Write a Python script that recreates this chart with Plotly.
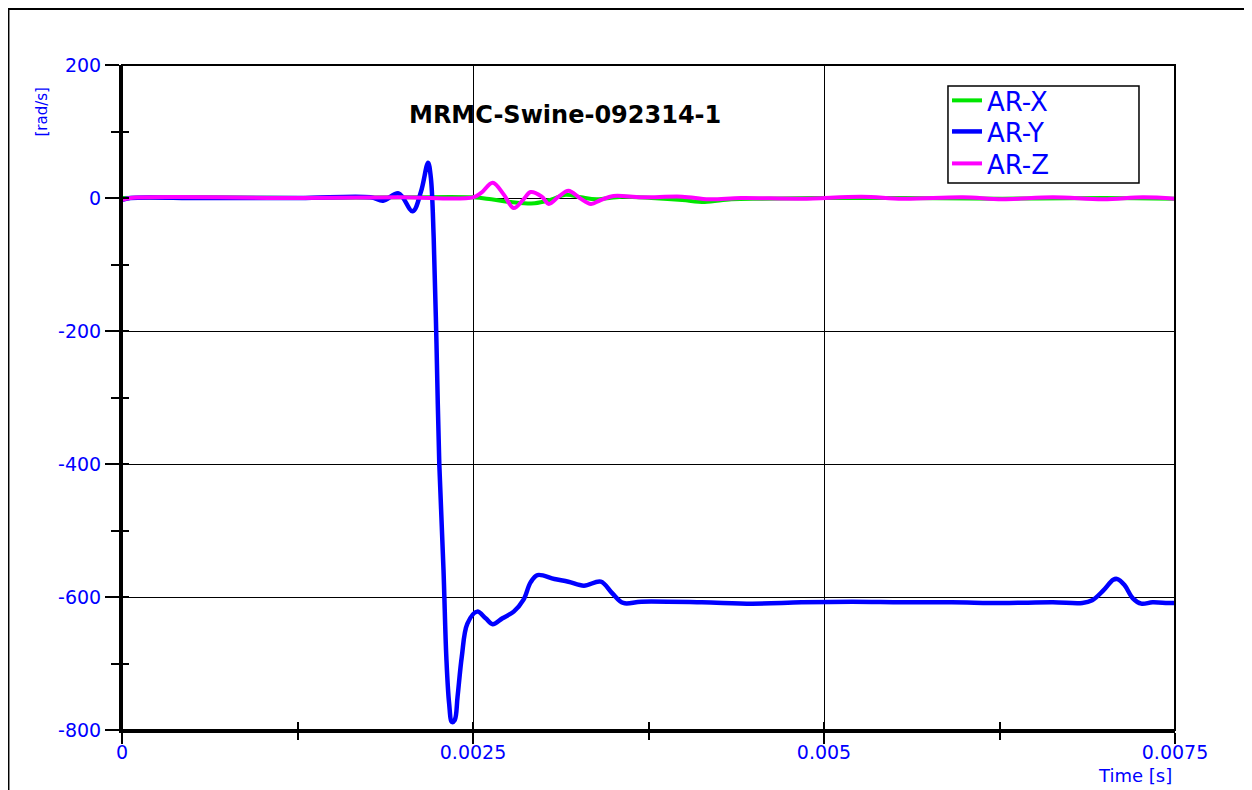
import plotly.graph_objects as go

# AR-Y (blue) - time [s], angular rate [rad/s]
t_y = [0, 0.00006, 0.00056, 0.00127, 0.00177, 0.00186, 0.00197, 0.00207, 0.00213,
       0.00218, 0.00220, 0.00222, 0.00224, 0.00226, 0.00229, 0.00231, 0.00233,
       0.00235, 0.00237, 0.00239, 0.00242, 0.00246, 0.00253, 0.00259, 0.00264,
       0.00271, 0.00279, 0.00286, 0.00291, 0.00296, 0.00308, 0.00318, 0.00329,
       0.00341, 0.00349, 0.00357, 0.00370, 0.00413, 0.00449, 0.00484, 0.00520,
       0.00556, 0.00591, 0.00627, 0.00663, 0.00684, 0.00691, 0.00699, 0.00706,
       0.00709, 0.00714, 0.00720, 0.00726, 0.00734, 0.00745, 0.0075]
ar_y = [-3, 0, 0, 0, 1, -4, 7, -20, 10,
        53, 30, -60, -220, -400, -560, -690, -760,
        -788, -785, -750, -690, -640, -622, -632, -641,
        -632, -622, -604, -578, -567, -573, -577, -583,
        -577, -594, -609, -607, -608, -610, -608, -607,
        -608, -608, -609, -608, -609, -605, -590, -574,
        -573, -582, -602, -610, -608, -609, -609]

# AR-X (green)
t_x = [0, 0.00056, 0.00127, 0.00199, 0.0025, 0.00263, 0.00277, 0.00294, 0.00306,
       0.00316, 0.00327, 0.00338, 0.00356, 0.00377, 0.00399, 0.00415, 0.00434,
       0.00456, 0.005, 0.00556, 0.00627, 0.00699, 0.0075]
ar_x = [0, 1, 0, 1, 1, -2, -6, -8, -2,
        5, 1, -2, 2, 0, -3, -6, -2,
        -1, 0, 0, -1, 0, -1]

# AR-Z (magenta)
t_z = [0, 0.00006, 0.00127, 0.00199, 0.0025, 0.00256, 0.00264, 0.00272, 0.00279,
       0.00286, 0.00291, 0.00299, 0.00304, 0.00311, 0.00318, 0.00326, 0.00334,
       0.00341, 0.00350, 0.00370, 0.00399, 0.00418, 0.00441, 0.00484, 0.00527,
       0.00556, 0.00599, 0.00627, 0.00663, 0.00699, 0.00727, 0.0075]
ar_z = [-3, 0, 0, 1, 1, 8, 23, 5, -15,
        -2, 9, 2, -9, 2, 11, 0, -9,
        -3, 3, 1, 2, -2, 0, -1, 2,
        -1, 1, -2, 1, -2, 1, -1]

x_tick_vals = [0, 0.0025, 0.005, 0.0075]
x_tick_text = ["0", "0.0025", "0.005", "0.0075"]
y_tick_vals = [-800, -600, -400, -200, 0, 200]
y_tick_text = ["-800", "-600", "-400", "-200", "0", "200"]

BLUE = "#0000ff"
FONT = "DejaVu Sans"

fig = go.Figure()
fig.add_trace(go.Scatter(x=t_x, y=ar_x, name="AR-X", mode="lines", legend="legend",
                         line=dict(color="#00e600", width=4, shape="spline")))
fig.add_trace(go.Scatter(x=t_y, y=ar_y, name="AR-Y", mode="lines", legend="legend2",
                         line=dict(color="#0000ff", width=4.5, shape="spline")))
fig.add_trace(go.Scatter(x=t_z, y=ar_z, name="AR-Z", mode="lines", legend="legend3",
                         line=dict(color="#ff00ff", width=4, shape="spline")))

leg = dict(x=0.7835, xanchor="left", yanchor="top", bgcolor="rgba(0,0,0,0)",
           borderwidth=0, font=dict(family=FONT, size=26, color=BLUE), itemwidth=30)

fig.update_layout(
    width=1244, height=782,
    margin=dict(l=114, r=77, t=57, b=60),
    plot_bgcolor="white", paper_bgcolor="white",
    font=dict(family=FONT, color=BLUE, size=19),
    xaxis=dict(range=[0, 0.0075], tickmode="array", tickvals=x_tick_vals,
               ticktext=x_tick_text, ticks="outside", ticklen=11, tickwidth=2,
               tickcolor="black", showline=True, linewidth=3, linecolor="black",
               showgrid=True, gridcolor="black", gridwidth=1, zeroline=False,
               tickfont=dict(color=BLUE, size=19), ticklabelstandoff=-8,
               minor=dict(tickmode="linear", tick0=0, dtick=0.00125, ticks="outside",
                          ticklen=7, tickwidth=2, tickcolor="black", showgrid=False)),
    yaxis=dict(range=[-800, 200], tickmode="array", tickvals=y_tick_vals,
               ticktext=y_tick_text,
               ticks="outside", ticklen=14, tickwidth=2, tickcolor="black",
               showline=True, linewidth=3, linecolor="black",
               showgrid=True, gridcolor="black", gridwidth=1, zeroline=False,
               tickfont=dict(color=BLUE, size=19),
               minor=dict(tickmode="linear", tick0=0, dtick=100, ticks="outside",
                          ticklen=8, tickwidth=2, tickcolor="black", showgrid=False)),
    xaxis2=dict(overlaying="x", matches="x", range=[0, 0.0075], side="bottom",
                tickmode="linear", tick0=0, dtick=0.00125, ticks="inside",
                ticklen=8, tickwidth=2, tickcolor="black", showticklabels=False,
                showgrid=False, showline=False, zeroline=False),
    yaxis2=dict(overlaying="y", range=[-800, 200], side="left",
                tickmode="linear", tick0=0, dtick=100, ticks="inside",
                ticklen=7, tickwidth=2, tickcolor="black", showticklabels=False,
                showgrid=False, showline=False, zeroline=False),
    legend=dict(leg, y=0.982),
    legend2=dict(leg, y=0.9353),
    legend3=dict(leg, y=0.8872),
    showlegend=True,
)

# invisible trace so the overlay axes are drawn
fig.add_trace(go.Scatter(x=[0], y=[0], xaxis="x2", yaxis="y2", mode="markers",
                         marker=dict(opacity=0), showlegend=False, hoverinfo="skip"))

fig.add_annotation(text="<b>MRMC-Swine-092314-1</b>", xref="paper", yref="paper",
                   x=0.421, y=0.925, xanchor="center", yanchor="middle",
                   showarrow=False, font=dict(family=FONT, size=24, color="black"))
fig.add_annotation(text="[rad/s]", xref="paper", yref="paper", textangle=-90,
                   x=-0.076, y=0.93, xanchor="center", yanchor="middle",
                   showarrow=False, font=dict(family=FONT, size=15, color=BLUE))
fig.add_annotation(text="Time [s]", xref="paper", yref="paper",
                   x=0.962, y=-0.068, xanchor="center", yanchor="middle",
                   showarrow=False, font=dict(family=FONT, size=18, color=BLUE))

# legend box, plot frame and outer border
fig.add_shape(type="rect", xref="paper", yref="paper", x0=0.7844, x1=0.9658,
              y0=0.8225, y1=0.9684, line=dict(color="black", width=1.5),
              fillcolor="white", layer="above")
fig.add_shape(type="rect", xref="paper", yref="paper", x0=0, x1=1, y0=0, y1=1,
              line=dict(color="black", width=2), layer="above")
fig.add_shape(type="rect", xref="paper", yref="paper", x0=-0.1083, x1=1.0712,
              y0=-0.2, y1=1.085, line=dict(color="black", width=3), layer="above")

fig.write_html("out.html")
